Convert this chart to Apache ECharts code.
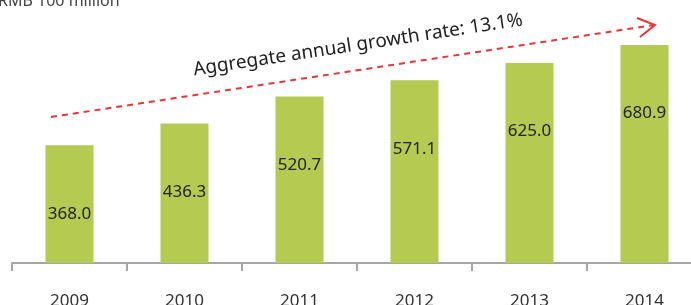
<!DOCTYPE html>
<html>
<head>
<meta charset="utf-8">
<script src="https://cdn.jsdelivr.net/npm/echarts@6/dist/echarts.min.js"></script>
<style>
    html, body { margin: 0; padding: 0; background: #fff; }
    #chart { width: 691px; height: 305px; }
</style>
</head>
<body>
<div id="chart"></div>
<script>
    var years = ['2009', '2010', '2011', '2012', '2013', '2014'];
    var revenue = [368.0, 436.3, 520.7, 571.1, 625.0, 680.9];
    var unitLabel = 'RMB 100 million';
    var growthLabel = 'Aggregate annual growth rate: 13.1%';

    var font = '"Noto Sans", "Open Sans", sans-serif';
    var chart = echarts.init(document.getElementById('chart'));

    chart.setOption({
        animation: false,
        grid: { left: 12, width: 690, top: 23, bottom: 42, outerBoundsMode: 'none' },
        xAxis: {
            type: 'category',
            data: years,
            axisLine: { lineStyle: { color: '#a6a6a6', width: 2 } },
            axisTick: { show: true, interval: 0, length: 8, lineStyle: { color: '#a6a6a6', width: 2 } },
            axisLabel: { margin: 30, fontSize: 17, color: '#333', fontFamily: font }
        },
        yAxis: {
            type: 'value',
            min: 0,
            max: 750,
            show: false
        },
        series: [{
            type: 'bar',
            data: revenue,
            barWidth: 48,
            itemStyle: { color: '#b4ca50' },
            label: {
                show: true,
                position: 'insideTop',
                distance: 60,
                fontSize: 17,
                color: '#222',
                fontFamily: font,
                formatter: function (p) { return p.value.toFixed(1); }
            }
        }],
        graphic: [
            {
                type: 'text',
                left: -2, top: -7,
                style: { text: unitLabel, fontSize: 16, fill: '#444', fontFamily: font }
            },
            {
                type: 'line',
                shape: { x1: 51, y1: 117, x2: 654, y2: 25 },
                style: { stroke: '#ee3338', lineWidth: 2, lineDash: [6, 5] }
            },
            {
                type: 'polyline',
                shape: { points: [[637, 18], [655, 25], [640, 37]] },
                style: { stroke: '#ee3338', lineWidth: 2, fill: null }
            },
            {
                type: 'text',
                x: 358, y: 45,
                rotation: 0.151,
                style: {
                    text: growthLabel, fontSize: 19, fill: '#222', fontFamily: font,
                    align: 'center', verticalAlign: 'middle'
                }
            }
        ]
    });
</script>
</body>
</html>
